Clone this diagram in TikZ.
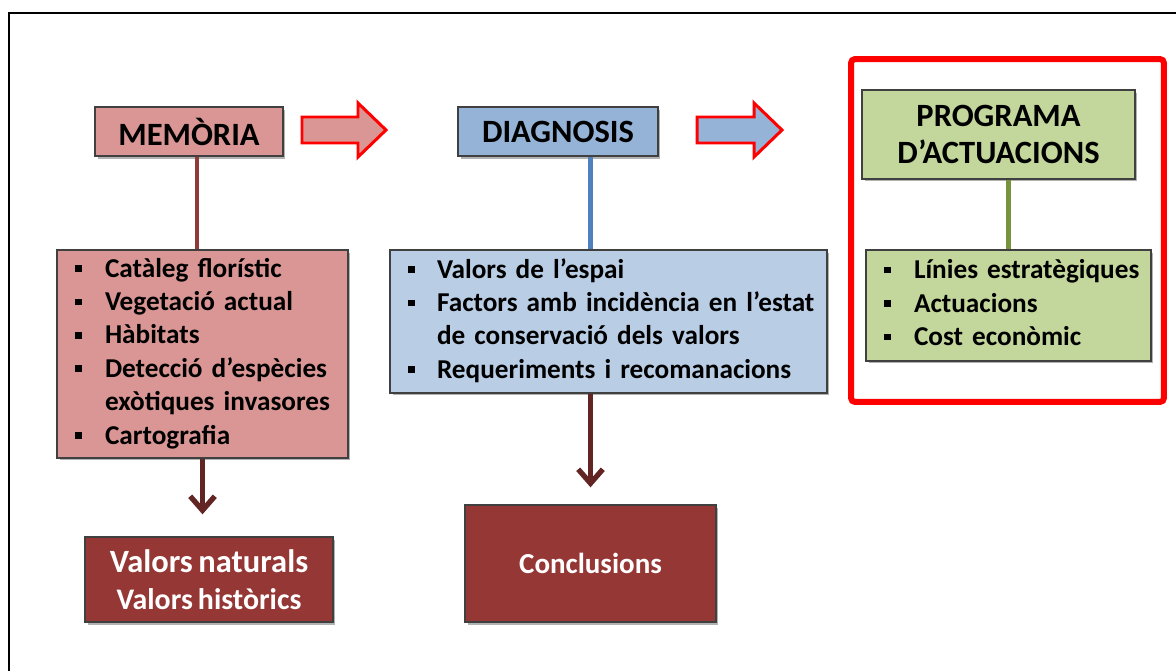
\documentclass[tikz,border=0pt]{standalone}
\usepackage{fontspec}
\setmainfont{Carlito}[WordSpace=0.75]
\usepackage{array}
\usetikzlibrary{arrows.meta,positioning,calc,shadows}

\definecolor{memfill}{HTML}{D99694}
\definecolor{diagfill}{HTML}{95B3D7}
\definecolor{diaglist}{HTML}{B9CDE5}
\definecolor{progfill}{HTML}{C3D69B}
\definecolor{valfill}{HTML}{953735}
\definecolor{memline}{HTML}{8E3B3A}
\definecolor{diagline}{HTML}{4F81BD}
\definecolor{progline}{HTML}{77933C}
\definecolor{downcol}{HTML}{632523}
\definecolor{framered}{HTML}{FF0000}

\newcommand{\sqbullet}{\raisebox{0.2em}{\rule{0.13cm}{0.13cm}}}

\begin{document}
\begin{tikzpicture}[x=0.02cm,y=-0.02cm,font=\bfseries,
 box/.style={draw=black!75,line width=0.8pt,align=center,inner sep=0pt,
  drop shadow={shadow xshift=0.05cm,shadow yshift=-0.05cm,opacity=0.3,fill=black}},
 headbox/.style={box,font=\fontsize{18.5}{21.5}\selectfont\bfseries},
 listbox/.style={box,align=left,inner xsep=0.36cm,font=\fontsize{15.5}{19}\selectfont\bfseries},
 endbox/.style={box,fill=valfill,text=white},
 bigarrow/.style={draw=framered,line width=1.7pt,line join=miter},
 downarrow/.style={draw=downcol,line width=3pt,-{Straight Barb[length=8pt,width=14pt,line width=3pt]}}]
\useasboundingbox (0,0) rectangle (1176,670);
\draw[line width=1.2pt] (9,13) rectangle (1200,700);

% column 1
\node[headbox,fill=memfill,minimum width=3.76cm,minimum height=0.98cm] (memhead) at (189,131.5) {MEMÒRIA};
\node[listbox,fill=memfill,text width=5.1cm,minimum height=4.16cm] (memlist) at (202.5,354)
 {\begin{tabular}{@{}p{0.6cm}@{}l@{}}
  \sqbullet & Catàleg florístic\\
  \sqbullet & Vegetació actual\\
  \sqbullet & Hàbitats\\
  \sqbullet & Detecció d’espècies\\
            & exòtiques invasores\\
  \sqbullet & Cartografia
  \end{tabular}};
\node[endbox,minimum width=4.96cm,minimum height=1.7cm,font=\fontsize{17}{21}\selectfont\bfseries] (valors) at (209,579.5)
 {{\fontsize{18.5}{21}\selectfont Valors naturals}\\Valors històrics};

% column 2
\node[headbox,fill=diagfill,minimum width=4cm,minimum height=0.98cm] (diaghead) at (558,131.5) {DIAGNOSIS};
\node[listbox,fill=diaglist,text width=8.02cm,minimum height=2.86cm] (diaglist) at (608.5,321.5)
 {\begin{tabular}{@{}p{0.58cm}@{}l@{}}
  \sqbullet & Valors de l’espai\\
  \sqbullet & Factors amb incidència en l’estat\\
            & de conservació dels valors\\
  \sqbullet & Requeriments i recomanacions
  \end{tabular}};
\node[endbox,minimum width=5.02cm,minimum height=2.34cm,font=\fontsize{16.5}{20}\selectfont\bfseries] (concl) at (590.5,563.5) {Conclusions};

% column 3
\node[draw=framered,line width=0.12cm,rounded corners=0.08cm,minimum width=6.26cm,minimum height=6.86cm] (focus) at (1007.5,230.5) {};
\node[headbox,fill=progfill,minimum width=5.46cm,minimum height=1.78cm] (proghead) at (998.5,134.5) {PROGRAMA\\D’ACTUACIONS};
\node[listbox,fill=progfill,text width=4.98cm,minimum height=2.22cm] (proglist) at (1008.5,305.5)
 {\begin{tabular}{@{}p{0.6cm}@{}l@{}}
  \sqbullet & Línies estratègiques\\
  \sqbullet & Actuacions\\
  \sqbullet & Cost econòmic
  \end{tabular}};

% block arrows
\draw[bigarrow,fill=memfill] (302,117) -- (358,117) -- (358,103) -- (386,130) -- (358,157) -- (358,143) -- (302,143) -- cycle;
\draw[bigarrow,fill=diagfill] (697,117) -- (754,117) -- (754,103) -- (782,130) -- (754,157) -- (754,143) -- (697,143) -- cycle;

% connectors
\draw[memline,line width=2.4pt] ([xshift=0.16cm]memhead.south) -- ([xshift=0.16cm]memhead.south |- memlist.north);
\draw[diagline,line width=2.4pt] (diaghead.south -| concl.north) -- (diaglist.north -| concl.north);
\draw[progline,line width=3pt] (proghead.south -| proglist.north) -- (proglist.north);
\draw[downarrow] (memlist.south) -- ([yshift=0.44cm]valors.north -| memlist.south);
\draw[downarrow] (diaglist.south -| concl.north) -- ([yshift=0.34cm]concl.north);
\end{tikzpicture}
\end{document}
